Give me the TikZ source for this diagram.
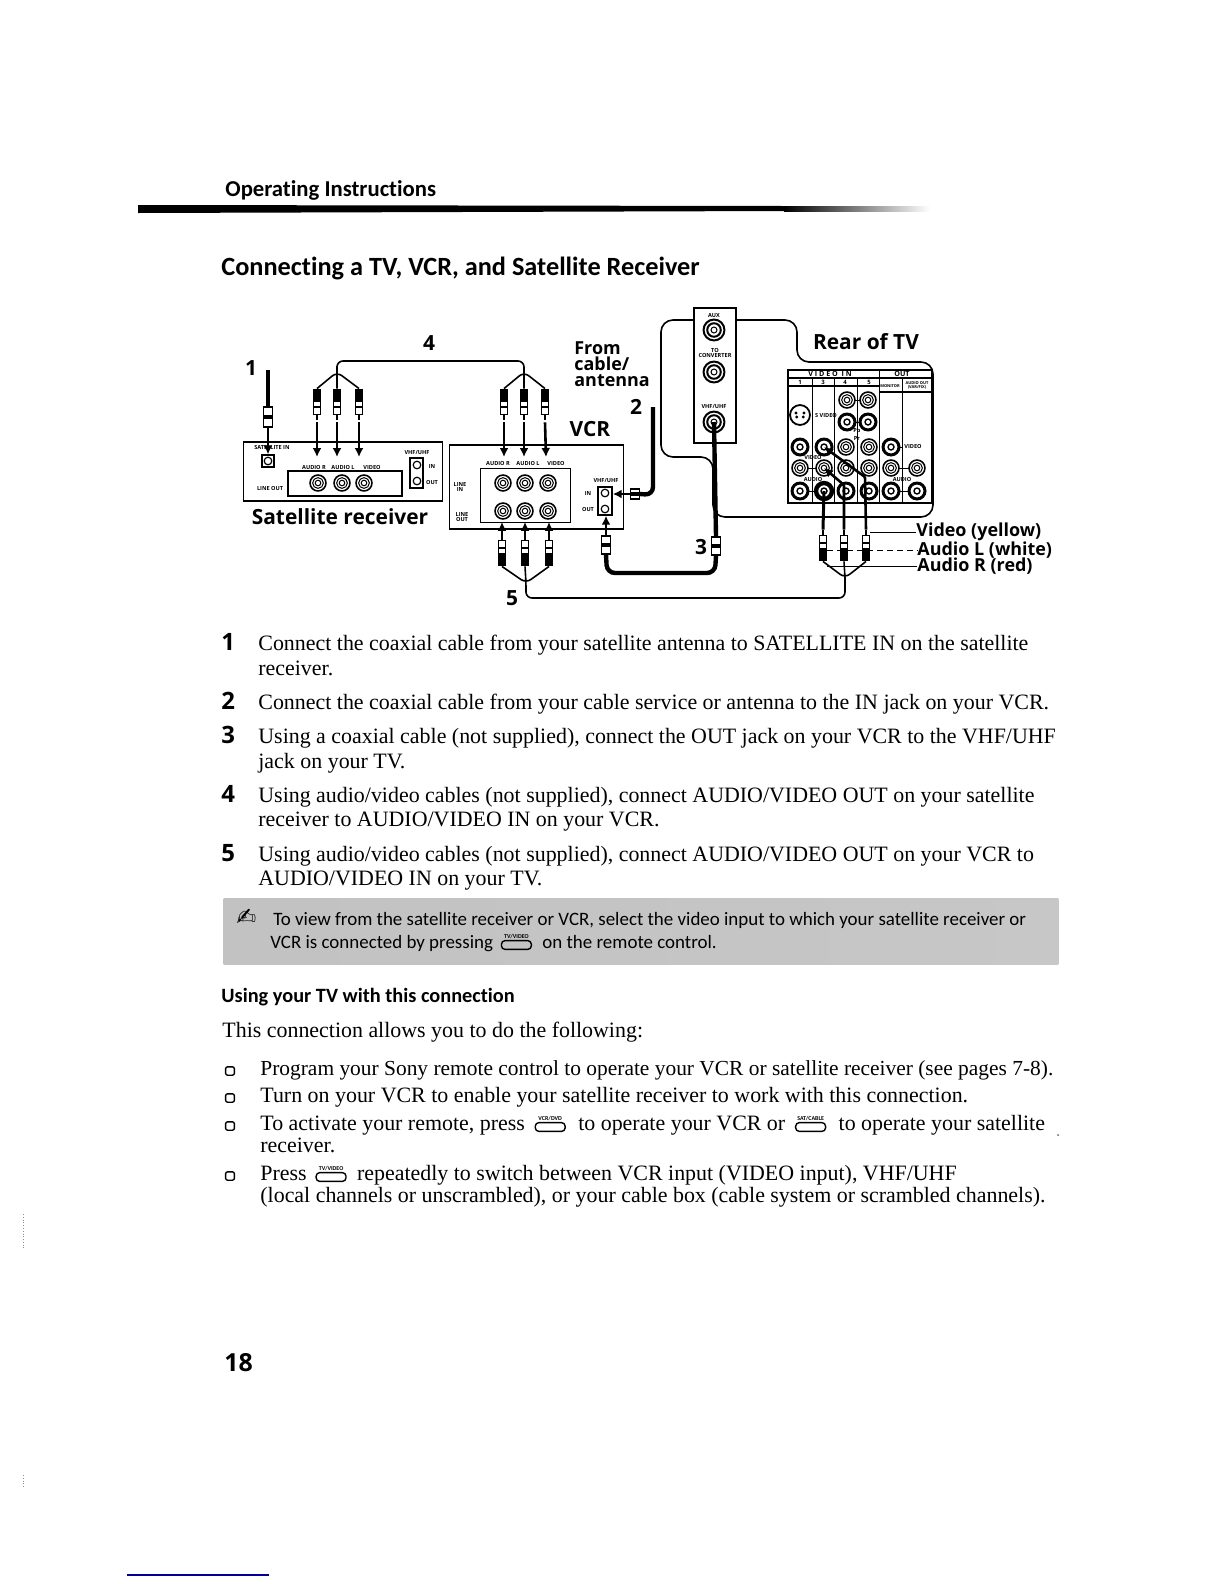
\documentclass[tikz,border=0pt]{standalone}
\usepackage{fontspec}
\setmainfont{Liberation Serif}
\setsansfont{Carlito}[Ligatures=NoCommon]
\newfontfamily\diagfont{Open Sans}
\newfontfamily\symfont{DejaVu Sans}
\usepackage{xcolor}
\usetikzlibrary{positioning,arrows.meta,calc}
\newcommand{\fsz}[1]{\fontsize{#1}{#1}\selectfont}

\begin{document}
\begin{tikzpicture}[x=0.5bp,y=-0.5bp,>=Latex,
  ln/.style={anchor=base west,inner sep=0pt,font=\fsz{11}},
  nt/.style={anchor=base west,inner sep=0pt,font=\sffamily\fsz{9.5}},
  nm/.style={anchor=base west,inner sep=0pt,font=\diagfont\bfseries\fsz{12}},
  cpt/.style={anchor=west,inner sep=0pt,font=\diagfont\bfseries\fsz{9}},
  tag/.style={inner sep=0pt,font=\diagfont\bfseries\fsz{10.5}},
  dev/.style={inner sep=0pt,font=\diagfont\bfseries\fsz{2.8},align=center},
  bul/.style={draw,rounded corners=1pt,line width=.7pt,minimum width=4.4pt,minimum height=4.2pt,inner sep=0pt},
  btn/.style={draw,rounded corners=1.8pt,line width=.7pt,minimum width=15pt,minimum height=4.4pt,inner sep=0pt},
  btnl/.style={inner sep=0pt,font=\sffamily\bfseries\fsz{3}},
  jk/.style={circle,draw,fill=white,line width=.8pt,minimum size=8pt,inner sep=0pt,
    path picture={\draw[line width=.5pt] (path picture bounding box.center) circle (2.7pt);
      \draw[line width=.5pt] (path picture bounding box.center) circle (1.4pt);}},
  jkd/.style={circle,draw,fill=white,line width=1.5pt,minimum size=8pt,inner sep=0pt,
    path picture={\draw[line width=.7pt] (path picture bounding box.center) circle (1.5pt);}},
  jks/.style={rectangle,draw,line width=.7pt,minimum size=6pt,inner sep=0pt,
    path picture={\draw[line width=.6pt] (path picture bounding box.center) circle (1.9pt);}},
  jkb/.style={circle,draw,fill=white,line width=1pt,minimum size=10.5pt,inner sep=0pt,
    path picture={\draw[line width=1pt] (path picture bounding box.center) circle (3.4pt);
      \draw[line width=.5pt] (path picture bounding box.center) circle (1.5pt);}},
  svd/.style={circle,draw,fill=white,line width=.9pt,minimum size=10pt,inner sep=0pt,
    path picture={\fill[black] (path picture bounding box.center) ++(-1.6pt,-1pt) circle (.8pt) ++(3.2pt,0) circle (.8pt)
      ++(-3.6pt,2pt) circle (.8pt) ++(4pt,0) circle (.8pt);}},
  box/.style={draw,line width=.8pt,inner sep=0pt},
  plg/.style={rectangle,draw,line width=.5pt,fill=white,minimum width=3.8pt,minimum height=13pt,inner sep=0pt,
    path picture={\fill[black] (path picture bounding box.north west) rectangle (path picture bounding box.east);
      \fill[black] ($(path picture bounding box.center)+(-2pt,-2pt)$) rectangle ($(path picture bounding box.center)+(2pt,-3pt)$);},
    append after command={(\tikzlastnode.south) edge[line width=1pt] +(0,5)}},
  plgu/.style={rectangle,draw,line width=.5pt,fill=white,minimum width=3.8pt,minimum height=13pt,inner sep=0pt,
    path picture={\fill[black] (path picture bounding box.south west) rectangle (path picture bounding box.east);
      \fill[black] ($(path picture bounding box.center)+(-2pt,2pt)$) rectangle ($(path picture bounding box.center)+(2pt,3pt)$);},
    append after command={(\tikzlastnode.north) edge[line width=1pt] +(0,-5)}},
  fcn/.style={rectangle,draw,line width=.6pt,fill=white,minimum width=4.6pt,minimum height=9pt,inner sep=0pt,
    path picture={\fill[black] ($(path picture bounding box.center)+(-3pt,-1pt)$) rectangle ($(path picture bounding box.center)+(3pt,1pt)$);}},
  sho/.style={line width=1.3pt,-{Latex[length=4.5pt,width=4.5pt]}},
  thk/.style={line width=2.2pt,rounded corners=4pt},
  thn/.style={line width=.8pt,rounded corners=3pt},
  lead/.style={line width=.5pt}]
\useasboundingbox (0,0) rectangle (1224,1584);

\node[anchor=base west,inner sep=0pt,font=\sffamily\bfseries\fsz{11.4}] (pagehead) at (225,196) {Operating Instructions};
\fill (138,205) -- (784,206) -- (784,211) -- (138,213) -- cycle;
\shade[left color=black,right color=white] (784,206) rectangle (930,211);
\node[anchor=base west,inner sep=0pt,font=\sffamily\bfseries\fsz{13.2}] (title) at (221,275) {Connecting a TV, VCR, and Satellite Receiver};

\draw[line width=.8pt,rounded corners=6pt] (713,517) -- (713,457) -- (661,457) -- (661,320) -- (797,320) -- (797,362) -- (933,362) -- (933,517) -- cycle;
\node[box,fill=white,minimum width=21pt,minimum height=67.5pt] (auxpanel) at (715,375.5) {};
\node[jkb] (auxjk) at (714,330) {};
\node[jkb] (convjk) at (714,372) {};
\node[jkb] (vhfjk) at (714,422) {};
\node[dev] (auxl) at (714,316) {AUX};
\node[dev] (convl) at (715,353) {TO\\CONVERTER};
\node[dev] (vhfl) at (714,407) {VHF/UHF};

\node[box,minimum width=72pt,minimum height=66.5pt] (tvpanel) at (860,436.5) {};
\draw[line width=.6pt] (788,378) -- (932,378) (788,386) -- (879,386) (879,392) -- (932,392);
\draw[line width=.5pt] (812,378) -- (812,503) (834,378) -- (834,503) (857,378) -- (857,503) (879,370) -- (879,503) (902,378) -- (902,503);
\node[dev,font=\diagfont\bfseries\fsz{3.6}] (vidin) at (830,374) {V I D E O\ \ I N};
\node[dev,font=\diagfont\bfseries\fsz{3.6}] (outl) at (902,374) {OUT};
\node[dev,font=\diagfont\bfseries\fsz{3}] (n1) at (800,382) {1};
\node[dev,font=\diagfont\bfseries\fsz{3}] (n3) at (823,382) {3};
\node[dev,font=\diagfont\bfseries\fsz{3}] (n4) at (845,382) {4};
\node[dev,font=\diagfont\bfseries\fsz{3}] (n5) at (869,382) {5};
\node[dev,font=\diagfont\bfseries\fsz{2}] (monl) at (890,386) {MONITOR};
\node[dev,font=\diagfont\bfseries\fsz{2}] (audol) at (917,385) {AUDIO OUT\\(VAR/FIX)};

\draw[lead] (847,400) -- (868,400) (847,422) -- (868,422) (857,422) -- (857,428) (891,447) -- (903,447) (800,468) -- (824,468) (891,468) -- (917,468) (800,491) -- (824,491) (891,491) -- (917,491);
\node[jk] (t4a) at (847,400) {};
\node[jk] (t5a) at (868,400) {};
\node[jkd] (t4b) at (847,422) {};
\node[jkd] (t5b) at (868,422) {};
\node[svd] (tsv) at (800,415) {};
\node[dev] (svl) at (826,415) {S VIDEO};
\node[dev] (pbl) at (857,430) {Pb};
\node[dev] (prl) at (857,439) {Pr};
\node[jkd] (v1) at (800,447) {};
\node[jkd] (v3) at (824,447) {};
\node[jk] (v4) at (846,447) {};
\node[jk] (v5) at (869,447) {};
\node[jkd] (vo) at (891,447) {};
\node[dev] (vol) at (913,446) {VIDEO};
\node[dev] (vidl) at (813,457) {VIDEO};
\node[jk] (l1) at (800,468) {};
\node[jk] (l3) at (824,468) {};
\node[jk] (l4) at (846,468) {};
\node[jk] (l5) at (869,468) {};
\node[jk] (lo) at (891,468) {};
\node[jk] (lf) at (917,468) {};
\node[dev] (aul) at (813,479) {AUDIO};
\node[dev] (aur) at (902,479) {AUDIO};
\node[jkd] (r1) at (800,491) {};
\node[jkd,line width=2.2pt] (r3) at (824,491) {};
\node[jkd] (r4) at (846,491) {};
\node[jkd] (r5) at (869,491) {};
\node[jkd] (ro) at (891,491) {};
\node[jkd] (rf) at (917,491) {};

\node[box,minimum width=100pt,minimum height=29.5pt] (satbox) at (343,471.5) {};
\node[box,minimum width=57pt,minimum height=12.5pt] (satin) at (345,483.5) {};
\node[jks] (satjk) at (268,461) {};
\node[dev] (satl) at (272,448) {SATELLITE IN};
\node[jk] (sr) at (318,483) {};
\node[jk] (sl) at (342,483) {};
\node[jk] (sv) at (364,483) {};
\node[dev] (srl) at (314,467) {AUDIO R};
\node[dev] (sll) at (343,467) {AUDIO L};
\node[dev] (svl2) at (372,467) {VIDEO};
\node[dev] (slo) at (270,488) {LINE OUT};
\node[dev] (svh) at (417,453) {VHF/UHF};
\node[box,minimum width=6.5pt,minimum height=15pt] (svhb) at (416.5,473) {};
\node[jks,draw=none] (svin) at (417,465) {};
\node[jks,draw=none] (svout) at (417,481) {};
\node[dev] (svil) at (432,467) {IN};
\node[dev] (svol) at (432,482) {OUT};

\node[box,minimum width=87.5pt,minimum height=42pt] (vcrbox) at (536.5,487) {};
\node[box,line width=.5pt,minimum width=45.5pt,minimum height=27.5pt] (vcrin) at (525.5,495.5) {};
\node[jk] (ir) at (503,483) {};
\node[jk] (il) at (525,483) {};
\node[jk] (iv) at (548,483) {};
\node[jk] (or) at (503,511) {};
\node[jk] (ol) at (525,511) {};
\node[jk] (ov) at (548,511) {};
\node[dev] (irl) at (498,463) {AUDIO R};
\node[dev] (ill) at (528,463) {AUDIO L};
\node[dev] (ivl) at (556,463) {VIDEO};
\node[dev] (linl) at (460,487) {LINE\\IN};
\node[dev] (lotl) at (462,517) {LINE\\OUT};
\node[dev] (vvh) at (606,481) {VHF/UHF};
\node[box,minimum width=7pt,minimum height=14pt] (vvhb) at (605,501) {};
\node[jks,draw=none] (vcin) at (605,493) {};
\node[jks,draw=none] (vcout) at (605,509) {};
\node[dev] (vil) at (588,494) {IN};
\node[dev] (vol2) at (588,509) {OUT};

\node[plg] (ps1) at (317,402) {};
\node[plg] (ps2) at (337,402) {};
\node[plg] (ps3) at (359,402) {};
\node[plg] (pv1) at (504,402) {};
\node[plg] (pv2) at (524,402) {};
\node[plg] (pv3) at (545,402) {};
\coordinate (f4a) at (337,372);
\coordinate (f4b) at (524,372);
\draw[thn] (ps1.north) -- (f4a) -- (ps3.north) (ps2.north) -- (f4a) -- (337,361) -- (524,361) -- (f4b);
\draw[thn] (pv1.north) -- (f4b) -- (pv3.north) (pv2.north) -- (f4b);
\draw[sho] ($(ps1.south)+(0,7)$) -- (317,457);
\draw[sho] ($(ps2.south)+(0,7)$) -- (337,457);
\draw[sho] ($(ps3.south)+(0,7)$) -- (359,457);
\draw[sho] ($(pv1.south)+(0,7)$) -- (504,457);
\draw[sho] ($(pv2.south)+(0,7)$) -- (524,457);
\draw[sho] ($(pv3.south)+(0,7)$) -- (546,457);

\coordinate (ant1) at (268,370);
\node[fcn,minimum height=10pt] (fsat) at (268,417) {};
\draw[thk] (ant1) -- (fsat.north);
\draw[sho] (fsat.south) -- (satjk.north);

\coordinate (ant2) at (653,407);
\node[fcn,minimum width=4.5pt,minimum height=5pt] (fvin) at (635,494) {};
\draw[thk] (ant2) -- (653,495) -- (fvin.east);
\draw[sho] (fvin.west) -- (vvhb.east |- fvin.west);

\node[fcn] (fvout) at (606,545) {};
\node[fcn] (ftv) at (716,546) {};
\draw[thk] (fvout.south) -- (607,573) -- (715,573) -- (ftv.south);
\draw[thk] (ftv.north) -- (vhfjk.center);
\draw[sho] (fvout.north) -- (vvhb.south -| fvout.north);

\node[plgu] (po1) at (502,553) {};
\node[plgu] (po2) at (525,553) {};
\node[plgu] (po3) at (549,553) {};
\draw[sho] ($(po1.north)+(0,-5)$) -- (502,522);
\draw[sho] ($(po2.north)+(0,-5)$) -- (525,522);
\draw[sho] ($(po3.north)+(0,-5)$) -- (549,522);
\node[plgu] (pt1) at (823,548) {};
\node[plgu] (pt2) at (844,548) {};
\node[plgu] (pt3) at (866,548) {};
\coordinate (f5a) at (526,583);
\coordinate (f5b) at (845,578);
\draw[thn] (po1.south) -- (f5a) -- (po3.south) (po2.south) -- (f5a) -- (526,598) -- (845,598) -- (f5b);
\draw[thn] (pt1.south) -- (f5b) -- (pt3.south) (pt2.south) -- (f5b);
\draw[line width=1.5pt] ($(pt1.north)+(0,-5)$) -- (r3.center);
\draw[sho,rounded corners=.5pt] ($(pt2.north)+(0,-5)$) -- (844,485) -- (l3.center);
\draw[sho,rounded corners=.5pt] ($(pt3.north)+(0,-5)$) -- (865,477) -- (v3.center);

\node[cpt] (cvid) at (916,532) {Video (yellow)};
\node[cpt] (caul) at (917,550) {Audio L (white)};
\node[cpt] (caur) at (917,566) {Audio R (red)};
\draw[lead] (pt3.north east |- cvid.west) -- (cvid.west);
\draw[lead,densely dashed] (pt1.east |- caul.west) -- (caul.west);
\draw[lead] (pt1.south east |- caur.west) -- (caur.west);

\node[tag] (k1) at (251,368) {1};
\node[tag] (k2) at (636,407) {2};
\node[tag] (k3) at (701,547) {3};
\node[tag] (k4) at (429,343) {4};
\node[tag] (k5) at (512,598) {5};
\node[cpt] (fr1) at (574,348) {From};
\node[cpt] (fr2) at (574,364) {cable/};
\node[cpt] (fr3) at (574,381) {antenna};
\node[tag] (vcrl) at (590,429) {VCR};
\node[tag] (satname) at (340,517) {Satellite receiver};
\node[tag] (rearl) at (866,342) {Rear of TV};

\node[nm] (n1t) at (221,650) {1};
\node[ln] (a1) at (258,650) {Connect the coaxial cable from your satellite antenna to SATELLITE IN on the satellite};
\node[ln] (a1b) at (258,675) {receiver.};
\node[nm] (n2t) at (221,709) {2};
\node[ln] (a2) at (258,709) {Connect the coaxial cable from your cable service or antenna to the IN jack on your VCR.};
\node[nm] (n3t) at (221,743) {3};
\node[ln] (a3) at (258,743) {Using a coaxial cable (not supplied), connect the OUT jack on your VCR to the VHF/UHF};
\node[ln] (a3b) at (258,768) {jack on your TV.};
\node[nm] (n4t) at (221,802) {4};
\node[ln] (a4) at (258,802) {Using audio/video cables (not supplied), connect AUDIO/VIDEO OUT on your satellite};
\node[ln] (a4b) at (258,826) {receiver to AUDIO/VIDEO IN on your VCR.};
\node[nm] (n5t) at (221,861) {5};
\node[ln] (a5) at (258,861) {Using audio/video cables (not supplied), connect AUDIO/VIDEO OUT on your VCR to};
\node[ln] (a5b) at (258,885) {AUDIO/VIDEO IN on your TV.};

\node[left color=black!24,middle color=black!8,right color=black!22,minimum width=419pt,minimum height=33pt,inner sep=0pt] (band) at (641,931.5) {};
\node[anchor=base west,inner sep=0pt,font=\symfont\fsz{12}] (pen) at (236,925) {✍};
\node[nt] (nt1) at (273,925) {To view from the satellite receiver or VCR, select the video input to which your satellite receiver or};
\node[nt] (nt2) at (270,948) {VCR is connected by pressing};
\node[btn,label={[btnl,yshift=.6pt]above:TV/VIDEO}] (btna) at ($(nt2.base east)+(23,-3)$) {};
\node[nt] (nt3) at ($(btna.east |- nt2.base)+(10,0)$) {on the remote control.};

\node[anchor=base west,inner sep=0pt,font=\sffamily\bfseries\fsz{10.2}] (usehead) at (221,1002) {Using your TV with this connection};
\node[ln] (intro) at (222,1037) {This connection allows you to do the following:};

\node[bul] (b1) at (230,1071) {};
\node[ln,font=\fsz{10.75}] (c1) at (260,1075) {Program your Sony remote control to operate your VCR or satellite receiver (see pages 7-8).};
\node[bul] (b2) at (230,1098) {};
\node[ln] (c2) at (260,1102) {Turn on your VCR to enable your satellite receiver to work with this connection.};
\node[bul] (b3) at (230,1126) {};
\node[ln] (c3) at (260,1130) {To activate your remote, press};
\node[btn,label={[btnl,yshift=.6pt]above:VCR/DVD}] (btnb) at ($(c3.base east)+(25,-3)$) {};
\node[ln] (c3b) at ($(btnb.east |- c3.base)+(12,0)$) {to operate your VCR or};
\node[btn,label={[btnl,yshift=.6pt]above:SAT/CABLE}] (btnc) at ($(c3b.base east)+(25,-3)$) {};
\node[ln] (c3c) at ($(btnc.east |- c3.base)+(12,0)$) {to operate your satellite};
\node[ln] (c3d) at (260,1152) {receiver.};
\fill[black!70] (1058,1135) circle (.5pt);
\node[bul] (b4) at (230,1176) {};
\node[ln] (c4) at (260,1180) {Press};
\node[btn,label={[btnl,yshift=.6pt]above:TV/VIDEO}] (btnd) at ($(c4.base east)+(24,-3)$) {};
\node[ln] (c4b) at ($(btnd.east |- c4.base)+(10,0)$) {repeatedly to switch between VCR input (VIDEO input), VHF/UHF};
\node[ln] (c4c) at (260,1202) {(local channels or unscrambled), or your cable box (cable system or scrambled channels).};

\node[anchor=base west,inner sep=0pt,font=\diagfont\bfseries\fsz{12.5}] (pageno) at (224,1371) {18};

\draw[black!45,line width=.4pt,densely dotted] (23,1214) -- (23,1250) (23,1475) -- (23,1487);
\draw[blue!60!black,line width=.6pt] (127,1575) -- (269,1575);
\end{tikzpicture}
\end{document}
